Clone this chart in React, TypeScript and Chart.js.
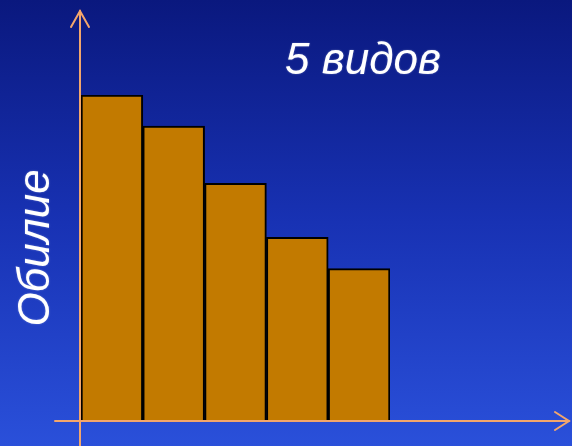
import React, { useEffect, useRef } from "react";
import { Chart, registerables } from "chart.js";

Chart.register(...registerables);

// Species abundance, ranked from most to least common
const species = ["1", "2", "3", "4", "5"];
const abundance = [100, 90.4, 72.8, 56.2, 46.6];
const yMax = 100;

const titleText = "5 видов";
const yAxisTitle = "Обилие";

const AXIS_COLOR = "#F2A66C";
const BAR_COLOR = "#C27A00";

const backdrop = {
  id: "backdrop",
  beforeDraw(chart: any) {
    const { ctx, width, height } = chart;
    const g = ctx.createLinearGradient(0, 0, 0, height);
    g.addColorStop(0, "#0a187e");
    g.addColorStop(0.5, "#1832b4");
    g.addColorStop(1, "#2a50da");
    ctx.save();
    ctx.fillStyle = g;
    ctx.fillRect(0, 0, width, height);
    ctx.restore();
  },
};

// Arrow-tipped axes and the text labels
const decorations = {
  id: "decorations",
  afterDatasetsDraw(chart: any) {
    const { ctx, chartArea, width, height } = chart;
    const x0 = chartArea.left - 1;
    const y0 = chartArea.bottom + 1;
    ctx.save();
    ctx.strokeStyle = AXIS_COLOR;
    ctx.lineWidth = 2;
    ctx.lineCap = "round";
    // y axis
    ctx.beginPath();
    ctx.moveTo(x0, height);
    ctx.lineTo(x0, 11);
    ctx.stroke();
    ctx.beginPath();
    ctx.moveTo(x0 - 9, 27);
    ctx.lineTo(x0, 11);
    ctx.lineTo(x0 + 9, 27);
    ctx.stroke();
    // x axis
    ctx.beginPath();
    ctx.moveTo(55, y0);
    ctx.lineTo(width - 3, y0);
    ctx.stroke();
    ctx.beginPath();
    ctx.moveTo(width - 17, y0 - 9);
    ctx.lineTo(width - 3, y0);
    ctx.lineTo(width - 17, y0 + 9);
    ctx.stroke();

    ctx.fillStyle = "#ffffff";
    ctx.shadowColor = "rgba(255,255,255,0.35)";
    ctx.shadowBlur = 2;
    ctx.font = "italic 44px 'Liberation Sans', Arial, sans-serif";
    ctx.textBaseline = "alphabetic";
    ctx.textAlign = "left";
    ctx.fillText(titleText, 285, 74);

    ctx.translate(49, 248);
    ctx.rotate(-Math.PI / 2);
    ctx.textAlign = "center";
    ctx.fillText(yAxisTitle, 0, 0);
    ctx.restore();
  },
};

export default function App() {
  const ref = useRef<HTMLCanvasElement>(null);

  useEffect(() => {
    if (!ref.current) return;
    const chart = new Chart(ref.current, {
      type: "bar",
      data: {
        labels: species,
        datasets: [
          {
            data: abundance,
            backgroundColor: BAR_COLOR,
            borderColor: "#000000",
            borderWidth: 2,
            barPercentage: 1,
            categoryPercentage: 1,
          },
        ],
      },
      options: {
        responsive: false,
        animation: false,
        layout: { padding: { top: 95, bottom: 26, left: 81, right: 182 } },
        plugins: {
          legend: { display: false },
          tooltip: { enabled: false },
          title: { display: false },
        },
        scales: {
          x: { display: false },
          y: { display: false, min: 0, max: yMax },
        },
      },
      plugins: [backdrop, decorations],
    });
    return () => chart.destroy();
  }, []);

  return (
    <div style={{ position: "fixed", left: 0, top: 0, width: 572, height: 446 }}>
      <canvas ref={ref} width={572} height={446} style={{ display: "block" }} />
    </div>
  );
}
